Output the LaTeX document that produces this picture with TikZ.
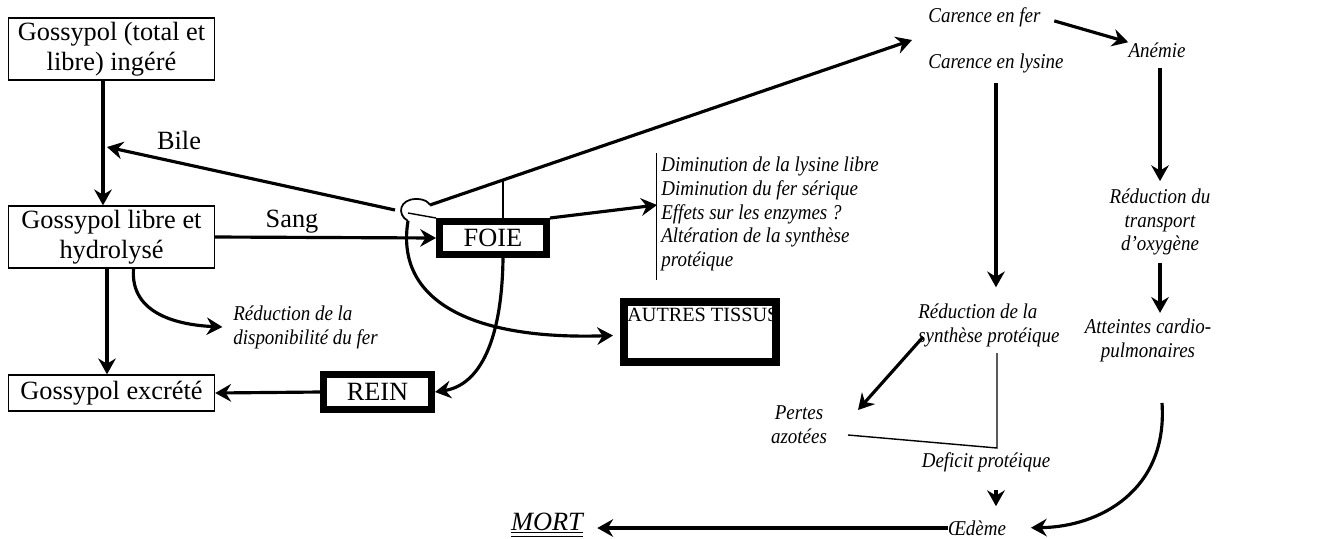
\documentclass[tikz,border=0pt]{standalone}
\usepackage{fontspec}
\setmainfont{Liberation Serif}
\newfontfamily\italique[FakeStretch=0.9]{Liberation Serif}
\usepackage{tikz}
\usetikzlibrary{arrows.meta}

\begin{document}
\begin{tikzpicture}[x=0.02cm, y=-0.02cm,
  plainbox/.style={draw, line width=0.8pt, inner sep=0pt, align=center, font=\fontsize{15}{17}\selectfont},
  thickbox/.style={draw, line width=4pt, inner sep=0pt, font=\fontsize{15}{17}\selectfont},
  effet/.style={inner sep=0pt, font=\italique\fontsize{12}{13.6}\selectfont\itshape},
  fleche/.style={line width=1.8pt, -{Stealth[length=9pt, width=10pt, inset=3pt]}},
  trait/.style={line width=0.8pt}]
\useasboundingbox (0, 0) rectangle (1337, 538);

\node[plainbox, minimum width=4.12cm, minimum height=1.24cm] (ingere) at (111.5, 49) {Gossypol (total et\\libre) ingéré};
\node[plainbox, minimum width=4.12cm, minimum height=1.24cm] (libre) at (111.5, 237) {Gossypol libre et\\hydrolysé};
\node[plainbox, minimum width=4.12cm, minimum height=0.72cm] (excrete) at (111.5, 393) {Gossypol excrété};
\node[thickbox, minimum width=2.14cm, minimum height=0.66cm] (foie) at (493, 238) {FOIE};
\node[thickbox, minimum width=2.16cm, minimum height=0.70cm] (rein) at (377.5, 392) {REIN};
\node[thickbox, line width=4.5pt, minimum width=3.04cm, minimum height=1.2cm] (autres) at (700, 332) {};
\node[anchor=north west, inner sep=0pt, font=\fontsize{11.5}{13}\selectfont] (autrestxt) at (627, 308) {AUTRES TISSUS};

\node[font=\fontsize{15}{17}\selectfont] (bile) at (179, 140) {Bile};
\node[font=\fontsize{15}{17}\selectfont] (sang) at (292, 222) {Sang};
\node[effet, align=left, anchor=west] (dispo) at (233, 327) {Réduction de la\\disponibilité du fer};
\node[effet, align=left, anchor=west] (diminution) at (661, 214) {Diminution de la lysine libre\\Diminution du fer sérique\\Effets sur les enzymes ?\\Altération de la synthèse\\protéique};

\node[effet, anchor=west] (carfer) at (928, 17) {Carence en fer};
\node[effet, anchor=west] (carlys) at (928, 63) {Carence en lysine};
\node[effet] (anemie) at (1157, 50) {Anémie};
\node[effet, align=center] (transport) at (1160, 222) {Réduction du\\transport\\d’oxygène};
\node[effet, align=center] (atteintes) at (1148, 340) {Atteintes cardio-\\pulmonaires};
\node[effet, align=left, anchor=west] (synthese) at (918, 325) {Réduction de la\\synthèse protéique};
\node[effet, align=center] (pertes) at (799, 425) {Pertes\\azotées};
\node[effet] (deficit) at (986, 462) {Deficit protéique};
\node[effet] (oedeme) at (977, 528) {Œdème};
\node[inner sep=0pt, font=\fontsize{15}{17}\selectfont\itshape] (mort) at (547, 525) {\underline{\underline{MORT}}};

\coordinate (boucle) at (408, 221);
\coordinate (bilefin) at (107, 147);
\coordinate (ferdebut) at (430, 205);
\coordinate (ferfin) at (912, 40);
\coordinate (croix) at (503, 180);
\coordinate (barre) at (657, 205);
\coordinate (courbe) at (1162, 403);

\draw[fleche] ([xshift=-0.17cm]ingere.south) -- ([xshift=-0.17cm]libre.north);
\draw[fleche] ([xshift=-0.09cm]libre.south) -- ([xshift=-0.09cm]excrete.north);
\draw[fleche] (libre.east) -- (foie.west) ;
\draw[fleche] (395, 210) -- (bilefin);
\draw[line width=1pt] (boucle) .. controls (396, 214) and (400, 199) .. (416, 199) .. controls (425, 199) and (428, 202) .. (ferdebut);
\draw[trait] (408, 213) -- (foie.north west);
\draw[fleche] (ferdebut) -- (ferfin);
\draw[trait] (croix) -- (croix |- foie.north);
\draw[fleche] (boucle) .. controls (395, 300) and (470, 340) .. ([xshift=-4pt, yshift=-2pt]autres.west);
\draw[fleche] ([xshift=0.2cm]foie.south) .. controls (502, 340) and (480, 385) .. (rein.east);
\draw[fleche] (rein.west) -- (excrete.east);
\draw[fleche] ([xshift=0.44cm]libre.south) .. controls (130, 315) and (180, 325) .. ([xshift=-6pt]dispo.west);
\draw[fleche] (foie.north east) -- (barre);
\draw[line width=1pt] ([xshift=-2.5pt, yshift=2pt]diminution.north west) -- ([xshift=-2.5pt, yshift=-5pt]diminution.south west);

\draw[fleche, shorten <=8pt] (carfer.east) -- (anemie.north west);
\draw[fleche, shorten <=6pt, shorten >=4pt] (anemie.south -| transport.north) -- (transport.north);
\draw[fleche, shorten <=4pt, shorten >=3pt] (transport.south) -- (transport.south |- atteintes.north);
\draw[fleche, shorten >=14pt] (courbe) .. controls (1168, 490) and (1100, 527) .. (oedeme.east);
\draw[fleche, shorten <=6pt, shorten >=9pt] (carlys.south) -- (carlys.south |- synthese.north);
\draw[fleche] (923, 337) -- (858, 410);
\draw[trait] (848, 435) -- (997, 448) -- (997, 353);
\draw[fleche, shorten <=10pt, shorten >=8pt] (deficit.south -| carlys.south) -- (oedeme.north -| carlys.south);
\draw[fleche, shorten >=8pt] (oedeme.west) -- (oedeme.west -| mort.east);

\end{tikzpicture}
\end{document}
